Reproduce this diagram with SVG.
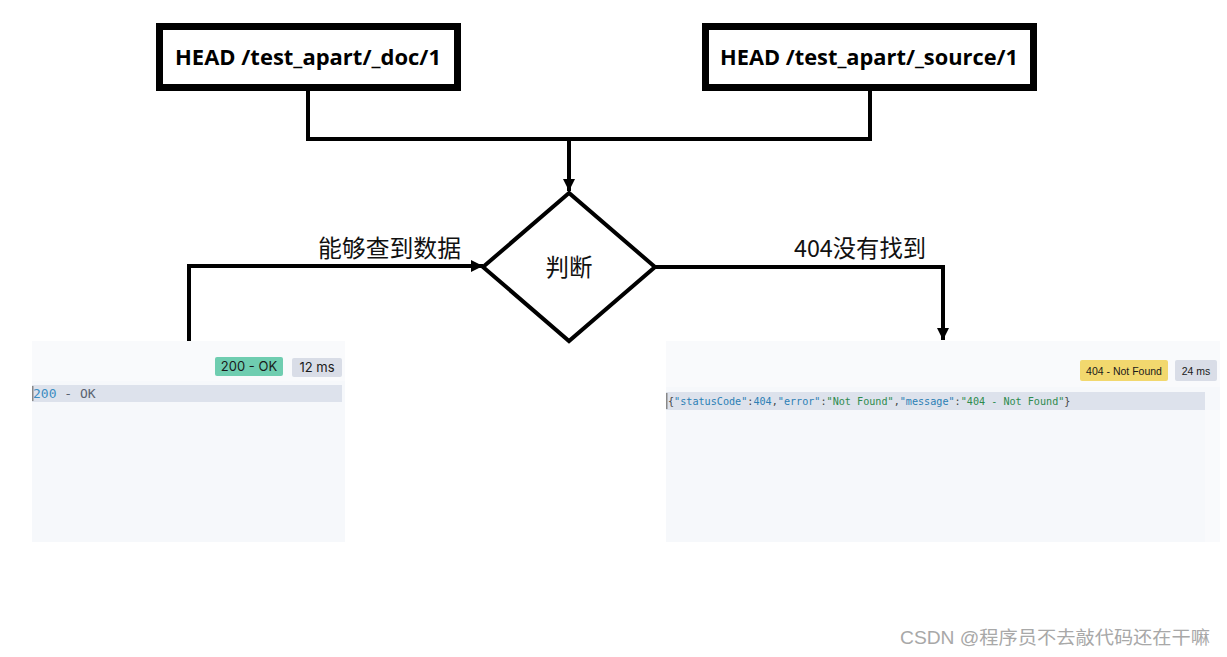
<svg xmlns="http://www.w3.org/2000/svg" width="1227" height="657" viewBox="0 0 1227 657">
<style>
.box{fill:#fff;stroke:#000;stroke-width:7}
.hd{font-family:"Open Sans","Liberation Sans",sans-serif;font-weight:700;font-size:22px;fill:#000}
.conn{fill:none;stroke:#000;stroke-width:4}
.dia{fill:#fff;stroke:#000;stroke-width:4}
.cn{font-family:"Noto Sans CJK SC",sans-serif;font-size:23.5px;fill:#111}
.mono{font-family:"DejaVu Sans Mono","Liberation Mono",monospace;font-size:13px}
.js{font-family:"DejaVu Sans Mono","Liberation Mono",monospace;font-size:10.13px}
.g{fill:#444}.b{fill:#2b7fb5}.gr{fill:#2e8b4e}
.badge{font-family:"Inter","Liberation Sans",sans-serif;font-size:13px;fill:#1a1a1a}
.nbadge{font-family:"Liberation Sans",sans-serif;font-size:10.5px;fill:#1a1a1a}
.wm{font-family:"Liberation Sans","Noto Sans CJK SC",sans-serif;font-size:18px;fill:#a8a8a8}
</style>
<defs>
<marker id="ah" viewBox="0 0 10 10" refX="10" refY="5" markerWidth="3" markerHeight="3" orient="auto" markerUnits="strokeWidth">
<path d="M0,0 L10,5 L0,10 z" fill="#000"/>
</marker>
</defs>
<rect width="1227" height="657" fill="#fff"/>

<g id="connectors">
<path class="conn" d="M308,89 V139 H870 V89"/>
<path class="conn" d="M569,139 V191" marker-end="url(#ah)"/>
<path class="conn" d="M189,341 V266 H483" marker-end="url(#ah)"/>
<path class="conn" d="M655,267 H943 V340" marker-end="url(#ah)"/>
<text class="cn" x="318" y="257" textLength="143" lengthAdjust="spacingAndGlyphs">能够查到数据</text>
<text class="cn" x="794" y="257" textLength="132" lengthAdjust="spacingAndGlyphs">404没有找到</text>
</g>

<g id="node-doc">
<rect class="box" x="159.5" y="26.5" width="298" height="61"/>
<text class="hd" x="308" y="65" text-anchor="middle" textLength="266" lengthAdjust="spacingAndGlyphs">HEAD /test_apart/_doc/1</text>
</g>

<g id="node-source">
<rect class="box" x="705.5" y="26.5" width="328" height="61"/>
<text class="hd" x="869" y="65" text-anchor="middle" textLength="298" lengthAdjust="spacingAndGlyphs">HEAD /test_apart/_source/1</text>
</g>

<g id="node-judge">
<polygon class="dia" points="569,193 483,267 569,341 655,267"/>
<text class="cn" x="569" y="276" text-anchor="middle">判断</text>
</g>

<g id="panel-ok">
<rect x="32" y="341" width="313" height="201" fill="#f6f8fb"/>
<rect x="32" y="341" width="313" height="40" fill="#f9fafc"/>
<rect x="215" y="357" width="68" height="19" rx="2" fill="#6fcdb0"/>
<text class="badge" x="249" y="371" text-anchor="middle">200 - OK</text>
<rect x="292" y="358" width="50" height="19" rx="2" fill="#d9dde7"/>
<text class="badge" x="317" y="372" text-anchor="middle">12 ms</text>
<rect x="32" y="385" width="310" height="17" fill="#dde2ec"/>
<rect x="32" y="386" width="1.5" height="15" fill="#888"/>
<text class="mono" x="33" y="398"><tspan fill="#3b8dc2">200</tspan><tspan fill="#5a6270"> - OK</tspan></text>
</g>

<g id="panel-notfound">
<rect x="666" y="341" width="554" height="201" fill="#f6f8fb"/>
<rect x="666" y="341" width="554" height="46" fill="#f9fafc"/>
<rect x="1205" y="410" width="15" height="132" fill="#f9fafc"/>
<rect x="1080" y="360" width="88" height="21" rx="2" fill="#f2d86e"/>
<text class="nbadge" x="1124" y="374.5" text-anchor="middle">404 - Not Found</text>
<rect x="1175" y="360" width="42" height="21" rx="2" fill="#d9dde7"/>
<text class="nbadge" x="1196" y="374.5" text-anchor="middle">24 ms</text>
<rect x="666" y="392" width="539" height="18" fill="#dde2ec"/>
<rect x="666" y="393" width="1.5" height="16" fill="#888"/>
<text class="js" x="668" y="405"><tspan class="g">{</tspan><tspan class="b">"statusCode"</tspan><tspan class="g">:</tspan><tspan class="b">404</tspan><tspan class="g">,</tspan><tspan class="b">"error"</tspan><tspan class="g">:</tspan><tspan class="gr">"Not Found"</tspan><tspan class="g">,</tspan><tspan class="b">"message"</tspan><tspan class="g">:</tspan><tspan class="gr">"404 - Not Found"</tspan><tspan class="g">}</tspan></text>
</g>

<text class="wm" x="900" y="644" textLength="310" lengthAdjust="spacingAndGlyphs">CSDN @程序员不去敲代码还在干嘛</text>
</svg>
